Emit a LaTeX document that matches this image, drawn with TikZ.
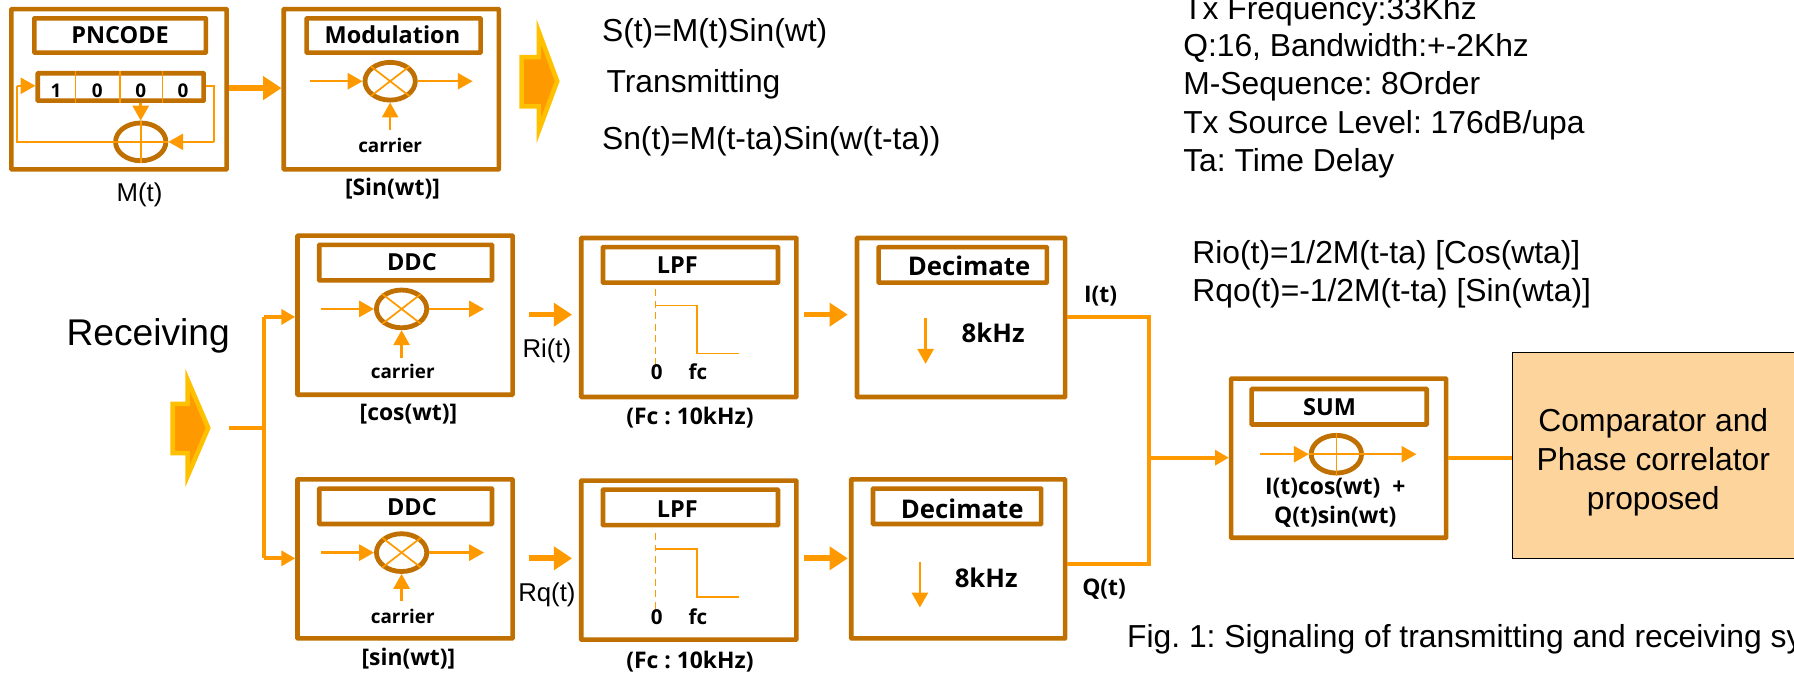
\documentclass[tikz,border=0pt]{standalone}
\usepackage{fontspec}
\setmainfont{Liberation Sans}
\newfontfamily\kf{Open Sans}
\frenchspacing
\usetikzlibrary{arrows.meta,shapes.geometric}
\definecolor{brn}{HTML}{BF7000}
\definecolor{org}{HTML}{FF9900}
\definecolor{gld}{HTML}{FFC000}
\definecolor{peach}{HTML}{FDD49B}
\tikzset{
 outerbox/.style={draw=brn,line width=4pt,fill=white,rectangle,inner sep=0,rounded corners=0.5pt},
 titlebox/.style={draw=brn,line width=4pt,fill=white,rectangle,inner sep=0,rounded corners=0.5pt},
 mixer/.style={ellipse,draw=brn,line width=4.2pt,inner sep=0,minimum width=44pt,minimum height=33pt},
 wire/.style={draw=org,line width=2.2pt},
 mwire/.style={draw=org,line width=3.4pt},
 awire/.style={wire,-{Triangle[length=13pt,width=14pt]}},
 amwire/.style={mwire,-{Triangle[length=12pt,width=13pt]}},
 fat/.style={draw=org,line width=5pt,-{Triangle[length=16pt,width=20pt]}},
 thin/.style={draw=org,line width=1.5pt},
 bold/.style={font=\kf\bfseries\fontsize{16.5}{25}\selectfont,inner sep=0,align=center,text=black},
 label/.style={font=\kf\bfseries\fontsize{20}{25}\selectfont,inner sep=0,align=center,text=black},
 ttl/.style={font=\kf\bfseries\fontsize{20.5}{22}\selectfont,inner sep=0,text=black},
 ttlb/.style={font=\kf\bfseries\fontsize{22.5}{22}\selectfont,inner sep=0,text=black},
 txt/.style={font=\fontsize{27.8}{30}\selectfont,inner sep=0,anchor=mid west,text=black,yshift=-6pt},
 small/.style={font=\fontsize{22.5}{25}\selectfont,inner sep=0,text=black},
 bigarrow/.style={draw=gld,fill=org,line width=4pt,miter limit=10},
}
\newcommand\blk[5]{\node[outerbox,minimum width={(#4-#2)*1pt},minimum height={(#5-#3)*1pt}] (#1) at ({(#2+#4)/2},{(#3+#5)/2}) {};}
\newcommand\tbx[5]{\node[titlebox,minimum width={(#4-#2)*1pt},minimum height={(#5-#3)*1pt}] (#1) at ({(#2+#4)/2},{(#3+#5)/2}) {};}
\newcommand\xmix[3]{\node[mixer] (#1) at (#2,#3) {};
 \draw[thin] (#1.north west)--(#1.south east) (#1.north east)--(#1.south west);}
\newcommand\pmix[3]{\node[mixer] (#1) at (#2,#3) {};
 \draw[thin] (#1.north)--(#1.south) (#1.west)--(#1.east);}
\newcommand\mixwires[1]{%
 \coordinate (#1in) at ([xshift=-46pt]#1.west);
 \coordinate (#1out) at ([xshift=48pt]#1.east);
 \draw[awire] (#1in)--(#1.west);
 \draw[awire] (#1.east)--(#1out);
 \coordinate (#1car) at ([yshift=-24pt]#1.south);
 \draw[awire] (#1car)--(#1.south);}
\newcommand\lpfresp[2]{%
 \coordinate (#1a) at (573,#2);
 \coordinate (#1b) at (573,#2+67);
 \coordinate (#1c) at (573,#2+14);
 \coordinate (#1d) at (609,#2+14);
 \coordinate (#1e) at (609,#2+56);
 \coordinate (#1f) at (646,#2+56);
 \draw[thin,dash pattern=on 6pt off 4pt] (#1a)--(#1b);
 \draw[thin] (#1c)--(#1d)--(#1e)--(#1f);}
\begin{document}
\begin{tikzpicture}[x=1pt,y=-1pt]
\useasboundingbox (0,0) rectangle (1568,588);
\clip (0,0) rectangle (1568,588);
% ---- PN code block
\blk{pn}{10}{8}{198}{148}
\tbx{pnt}{30}{16}{180}{46}
\node[ttl] (pnl) at (105,31) {PNCODE};
\tbx{reg}{33}{64}{178}{88}
\draw[thin] (66,62)--(66,90) (105,62)--(105,90) (142,62)--(142,90);
\node[bold] (r1) at (49,79) {1};
\node[bold] (r2) at (85,79) {0};
\node[bold] (r3) at (123,79) {0};
\node[bold] (r4) at (160,79) {0};
\pmix{xr}{123}{124}
\coordinate (regst) at (187,75);
\coordinate (xrr) at (187,124);
\coordinate (lft) at (15,124);
\coordinate (lftu) at (15,75);
\draw[wire] (reg.east |- regst)--(regst)--(xrr);
\draw[awire] (xrr)--(xr.east);
\draw[wire] (xr.west)--(lft)--(lftu);
\draw[awire] (lftu)--(reg.west |- lftu);
\draw[awire] (reg.south -| xr)--(xr.north);
\node[small] (mt) at (122,170) {M(t)};
% ---- modulation block
\blk{mod}{248}{8}{436}{148}
\tbx{modt}{268}{16}{420}{46}
\node[ttl] (modl) at (343,30) {Modulation};
\xmix{mx}{341}{71}
\mixwires{mx}
\node[bold] (modc) at (341,127) {carrier};
\node[label] (mods) at (343,165) {[Sin(wt)]};
\draw[fat] (pn.east |- 0,77)--(mod.west |- 0,77);
% ---- transmit arrow
\draw[bigarrow] (456,50)--(471,50)--(471,28)--(487,71)--(471,114)--(471,93)--(456,93)--cycle;
% ---- top texts
\node[txt] (s1) at (526,28) {S(t)=M(t)Sin(wt)};
\node[txt] (s2) at (530,72) {Transmitting};
\node[txt] (s3) at (526,122) {Sn(t)=M(t-ta)Sin(w(t-ta))};
\node[txt] (p1) at (1034,8) {Tx Frequency:33Khz};
\node[txt] (p2) at (1034,41) {Q:16, Bandwidth:+-2Khz};
\node[txt] (p3) at (1034,74) {M-Sequence: 8Order};
\node[txt] (p4) at (1034,108) {Tx Source Level: 176dB/upa};
\node[txt] (p5) at (1034,141) {Ta: Time Delay};
\node[txt] (q1) at (1042,222) {Rio(t)=1/2M(t-ta) [Cos(wta)]};
\node[txt] (q2) at (1042,255) {Rqo(t)=-1/2M(t-ta) [Sin(wta)]};
\node[txt,font=\fontsize{32.5}{36}\selectfont,yshift=-3pt] (rcv) at (58,290) {Receiving};
% ---- receive arrow
\draw[bigarrow] (151,353)--(164,353)--(164,332)--(182,374)--(164,416)--(164,396)--(151,396)--cycle;
% ---- DDC blocks
\blk{da}{260}{206}{448}{345}
\tbx{dat}{279}{214}{430}{245}
\node[ttl] (dal) at (360,229) {DDC};
\xmix{dax}{351}{270}
\mixwires{dax}
\node[bold] (dac) at (352,325) {carrier};
\node[label] (das) at (357,362) {[cos(wt)]};
\blk{db}{260}{419}{448}{558}
\tbx{dbt}{279}{427}{430}{458}
\node[ttl] (dbl) at (360,443) {DDC};
\xmix{dbx}{351}{483}
\mixwires{dbx}
\node[bold] (dbc) at (352,539) {carrier};
\node[label] (dbs) at (357,576) {[sin(wt)]};
% ---- split
\coordinate (spl) at (231,374);
\coordinate (src) at (200,374);
\draw[mwire] (src)--(spl);
\coordinate (spa) at (231,277);
\coordinate (spb) at (231,488);
\draw[mwire] (spa)--(spb);
\draw[amwire] (spa)--(da.west |- spa);
\draw[amwire] (spb)--(db.west |- spb);
% ---- LPF blocks
\blk{la}{508}{208}{696}{347}
\tbx{lat}{527}{216}{680}{247}
\node[ttl] (lal) at (592,232) {LPF};
\lpfresp{ra}{253}
\node[label,font=\kf\bfseries\fontsize{18}{22}\selectfont] (la0) at (574,325) {0};
\node[label,font=\kf\bfseries\fontsize{18}{22}\selectfont] (laf) at (610,325) {fc};
\node[label] (las) at (603,365) {(Fc : 10kHz)};
\blk{lb}{508}{420}{696}{559}
\tbx{lbt}{527}{428}{680}{459}
\node[ttl] (lbl) at (592,445) {LPF};
\lpfresp{rb}{466}
\node[label,font=\kf\bfseries\fontsize{18}{22}\selectfont] (lb0) at (574,539) {0};
\node[label,font=\kf\bfseries\fontsize{18}{22}\selectfont] (lbf) at (610,539) {fc};
\node[label] (lbs) at (603,578) {(Fc : 10kHz)};
\node[small] (ri) at (478,307) {Ri(t)};
\node[small] (rq) at (478,520) {Rq(t)};
\coordinate (a1) at (462,275); \coordinate (a2) at (500,275);
\coordinate (b1) at (462,488); \coordinate (b2) at (500,488);
\draw[fat] (a1)--(a2);
\draw[fat] (b1)--(b2);
\coordinate (a3) at (703,275); \coordinate (a4) at (741,275);
\coordinate (b3) at (703,488); \coordinate (b4) at (741,488);
\draw[fat] (a3)--(a4);
\draw[fat] (b3)--(b4);
% ---- decimate blocks
\blk{ca}{749}{208}{931}{347}
\tbx{cat}{768}{216}{915}{247}
\node[ttlb] (cal) at (847,232) {Decimate};
\coordinate (cau) at (809,278); \coordinate (cad) at (809,318);
\draw[awire] (cau)--(cad);
\node[ttlb] (cak) at (868,291) {8kHz};
\blk{cb}{744}{419}{931}{558}
\tbx{cbt}{763}{427}{910}{458}
\node[ttlb] (cbl) at (841,445) {Decimate};
\coordinate (cbu) at (804,491); \coordinate (cbd) at (804,531);
\draw[awire] (cbu)--(cbd);
\node[ttlb] (cbk) at (862,505) {8kHz};
\node[label] (it) at (962,259) {I(t)};
\node[label] (qt) at (965,515) {Q(t)};
% ---- merge
\coordinate (ma) at (1004,277);
\coordinate (mb) at (1004,493);
\coordinate (mc) at (1004,400);
\draw[mwire] (ca.east |- ma)--(ma)--(mb)--(cb.east |- mb);
% ---- SUM
\blk{sm}{1076}{331}{1264}{470}
\tbx{smt}{1094}{340}{1247}{371}
\node[ttl] (sml) at (1162,356) {SUM};
\pmix{smx}{1168}{397}
\coordinate (smi) at (1101,397); \coordinate (smo) at (1238,397);
\draw[awire] (smi)--(smx.west);
\draw[awire] (smx.east)--(smo);
\node[label] (sma) at (1167,427) {I(t)cos(wt)\ \ +};
\node[label] (smb) at (1167,452) {Q(t)sin(wt)};
\draw[amwire] (mc)--(sm.west |- mc);
% ---- comparator
\node[draw=black,line width=1.2pt,fill=peach,minimum width=300pt,minimum height=180pt,inner sep=0] (cmp) at (1472,398) {};
\node[inner sep=0,align=center,font=\fontsize{27.8}{34}\selectfont] (cmpl) at (1445,404) {Comparator and\\Phase correlator\\proposed};
\draw[mwire] (sm.east |- mc)--(cmp.west |- mc);
\node[txt] (fig) at (985,557) {Fig. 1: Signaling of transmitting and receiving system};
\end{tikzpicture}
\end{document}
